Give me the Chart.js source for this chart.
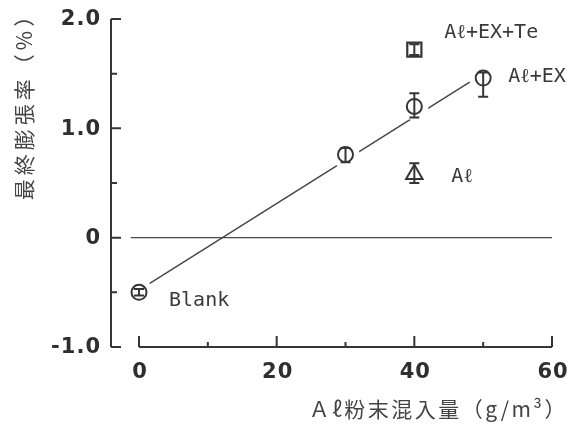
<!DOCTYPE html>
<html><head><meta charset="utf-8">
<script src="https://cdn.jsdelivr.net/npm/chart.js@4.4.1/dist/chart.umd.min.js"></script>
<style>html,body{margin:0;padding:0;background:#fff}canvas{display:block}</style>
</head><body>
<canvas id="c" width="573" height="425"></canvas>
<script>
// Aℓ粉末混入量 (g/m³) vs 最終膨張率 (%)
const alExDose = [0, 30, 40, 50];
const alExExp  = [-0.50, 0.76, 1.20, 1.46];
const alExLow  = [-0.53, 0.69, 1.10, 1.29];
const alExHigh = [-0.47, 0.82, 1.32, 1.51];

const alDose = [40];
const alExp  = [0.58];
const alLow  = [0.50];
const alHigh = [0.68];

const teDose = [40];
const teExp  = [1.72];
const teLow  = [1.67];
const teHigh = [1.77];

// fitted line through Blank and Aℓ+EX
const fitDose = [0, 50];
const fitExp  = [-0.48, 1.50];

const xTicks = [0, 10, 20, 30, 40, 50, 60];
const xMajor = [0, 20, 40, 60];
const yTicks = [-1.0, -0.5, 0, 0.5, 1.0, 1.5, 2.0];
const yMajor = [-1.0, 0, 1.0, 2.0];
const yMajorText = ['-1.0', '0', '1.0', '2.0'];

const seriesNames = ['Blank', 'Aℓ+EX', 'Aℓ', 'Aℓ+EX+Te'];
const xTitle = 'Ａℓ粉末混入量（g/m³）';
const yTitle = '最終膨張率（%）';

const INK = '#353535';
const pts = (xs, ys) => xs.map((x, i) => ({x, y: ys[i]}));

const axesPlugin = {
  id: 'paperAxes',
  beforeDatasetsDraw(chart) {
    const {ctx, scales: {x, y}} = chart;
    ctx.save();
    ctx.strokeStyle = INK;
    ctx.lineWidth = 2;
    // y axis with inward ticks
    const ax = x.getPixelForValue(-4.07);
    ctx.beginPath();
    ctx.moveTo(ax, y.getPixelForValue(2.0));
    ctx.lineTo(ax, y.getPixelForValue(-1.0));
    yTicks.forEach(v => {
      const py = y.getPixelForValue(v);
      ctx.moveTo(ax, py);
      ctx.lineTo(ax + (yMajor.includes(v) ? 10 : 6), py);
    });
    ctx.stroke();
    // x axis from 0 to 60 with upward ticks
    const by = y.getPixelForValue(-1.0);
    ctx.beginPath();
    ctx.moveTo(x.getPixelForValue(0), by);
    ctx.lineTo(x.getPixelForValue(60), by);
    xTicks.forEach(v => {
      const px = x.getPixelForValue(v);
      ctx.moveTo(px, by);
      ctx.lineTo(px, by - (xMajor.includes(v) ? 11 : 5));
    });
    ctx.stroke();
    // zero line
    ctx.lineWidth = 1.4;
    ctx.strokeStyle = '#4a4a4a';
    ctx.beginPath();
    ctx.moveTo(x.getPixelForValue(-1.2), y.getPixelForValue(0));
    ctx.lineTo(x.getPixelForValue(60), y.getPixelForValue(0));
    ctx.stroke();

    // tick labels
    ctx.fillStyle = '#2e2e2e';
    ctx.font = 'bold 21px "DejaVu Sans", sans-serif';
    ctx.letterSpacing = '1px';
    ctx.textAlign = 'right';
    ctx.textBaseline = 'middle';
    yMajor.forEach((v, i) => ctx.fillText(yMajorText[i], 101, y.getPixelForValue(v) + 1));
    ctx.textAlign = 'center';
    ctx.textBaseline = 'top';
    xMajor.forEach(v => ctx.fillText(String(v), x.getPixelForValue(v) + 1, 362));

    // axis titles
    ctx.fillStyle = '#444';
    ctx.font = '21px "Noto Sans CJK JP", sans-serif';
    ctx.letterSpacing = '2.5px';
    ctx.textAlign = 'right';
    ctx.textBaseline = 'middle';
    ctx.fillText(xTitle, 568, 409);
    ctx.save();
    ctx.translate(24, 101);
    ctx.rotate(-Math.PI / 2);
    ctx.letterSpacing = '4px';
    ctx.textAlign = 'center';
    ctx.fillText(yTitle, 0, 0);
    ctx.restore();
    ctx.restore();
  },
  afterDatasetsDraw(chart) {
    const {ctx, scales: {x, y}} = chart;
    ctx.save();
    ctx.strokeStyle = INK;
    ctx.lineWidth = 2;
    const bars = (xs, lo, hi) => xs.forEach((v, i) => {
      const px = x.getPixelForValue(v);
      const p1 = y.getPixelForValue(lo[i]);
      const p2 = y.getPixelForValue(hi[i]);
      ctx.beginPath();
      ctx.moveTo(px, p1); ctx.lineTo(px, p2);
      ctx.moveTo(px - 5, p1); ctx.lineTo(px + 5, p1);
      ctx.moveTo(px - 5, p2); ctx.lineTo(px + 5, p2);
      ctx.stroke();
    });
    bars(alExDose, alExLow, alExHigh);
    bars(alDose, alLow, alHigh);
    bars(teDose, teLow, teHigh);

    // series labels next to their marks
    ctx.fillStyle = '#3a3a3a';
    ctx.font = '20px "DejaVu Sans Mono", monospace';
    ctx.textAlign = 'left';
    ctx.textBaseline = 'alphabetic';
    const tag = (txt, vx, vy, dx, dy) =>
      ctx.fillText(txt, x.getPixelForValue(vx) + dx, y.getPixelForValue(vy) + dy);
    tag(seriesNames[0], alExDose[0], alExExp[0], 30, 14);
    tag(seriesNames[1], alExDose[3], alExExp[3], 25, 4);
    tag(seriesNames[2], alDose[0], alExp[0], 37, 8);
    tag(seriesNames[3], teDose[0], teExp[0], 30, -12);
    ctx.restore();
  }
};

new Chart(document.getElementById('c'), {
  type: 'scatter',
  data: {
    datasets: [
      { label: seriesNames[1], data: pts(alExDose, alExExp), order: 1,
        pointStyle: 'circle', pointRadius: 7.5, pointBorderWidth: 2,
        pointBackgroundColor: '#fff', pointBorderColor: INK },
      { label: seriesNames[2], data: pts(alDose, alExp), order: 1,
        pointStyle: 'triangle', pointRadius: 9.5, pointBorderWidth: 2,
        pointBackgroundColor: '#fff', pointBorderColor: INK },
      { label: seriesNames[3], data: pts(teDose, teExp), order: 1,
        pointStyle: 'rect', pointRadius: 10, pointBorderWidth: 2.2,
        pointBackgroundColor: '#fff', pointBorderColor: INK },
      // white clearance round the Aℓ+EX marks, breaking the fitted line
      { label: 'gap', data: pts(alExDose, alExExp), order: 2,
        pointStyle: 'circle', pointRadius: 14, pointBorderWidth: 0,
        pointBackgroundColor: '#fff', pointBorderColor: '#fff' },
      { label: 'fit', type: 'line', data: pts(fitDose, fitExp), order: 3,
        borderColor: '#444', borderWidth: 1.4, pointRadius: 0, fill: false }
    ]
  },
  options: {
    responsive: false,
    devicePixelRatio: 1,
    animation: false,
    events: [],
    layout: { padding: { left: 111, right: 21, top: 19, bottom: 78 } },
    scales: {
      x: { type: 'linear', display: false, min: -4.07, max: 60 },
      y: { type: 'linear', display: false, min: -1.0, max: 2.0 }
    },
    plugins: { legend: { display: false }, tooltip: { enabled: false } }
  },
  plugins: [axesPlugin]
});
</script>
</body></html>
